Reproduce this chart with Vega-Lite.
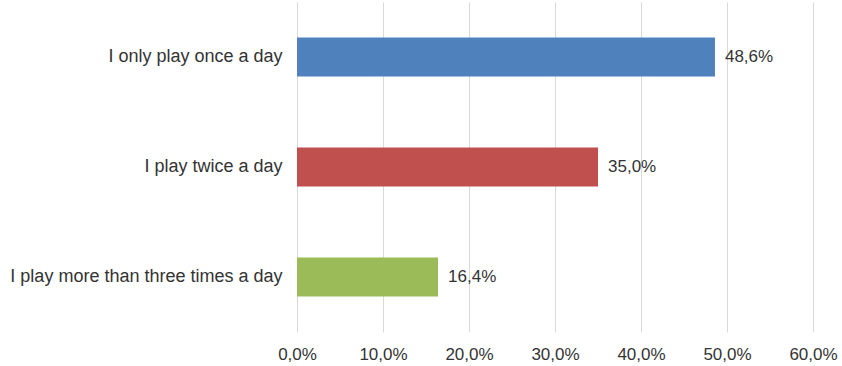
{
  "$schema": "https://vega.github.io/schema/vega-lite/v6.json",
  "width": 516,
  "height": 330,
  "autosize": {"type": "none"},
  "padding": {"left": 297, "top": 2, "right": 29, "bottom": 34},
  "background": "white",
  "config": {
    "view": {"stroke": null},
    "font": "Liberation Sans",
    "locale": {"number": {"decimal": ",", "thousands": ".", "grouping": [3], "currency": ["", " €"]}}
  },
  "data": {
    "values": [
      {"category": "I only play once a day", "value": 0.486, "color": "#4F81BD"},
      {"category": "I play twice a day", "value": 0.35, "color": "#C0504D"},
      {"category": "I play more than three times a day", "value": 0.164, "color": "#9BBB59"}
    ]
  },
  "encoding": {
    "y": {
      "field": "category",
      "type": "nominal",
      "sort": null,
      "scale": {"paddingInner": 0.645, "paddingOuter": 0.3225},
      "axis": {
        "title": null,
        "domain": false,
        "ticks": false,
        "labelPadding": 15,
        "labelFontSize": 18,
        "labelColor": "#333333",
        "labelLimit": 400
      }
    },
    "x": {
      "field": "value",
      "type": "quantitative",
      "scale": {"domain": [0, 0.6], "nice": false},
      "axis": {
        "title": null,
        "format": ".1%",
        "values": [0, 0.1, 0.2, 0.3, 0.4, 0.5, 0.6],
        "domain": false,
        "ticks": false,
        "grid": true,
        "gridColor": "#D9D9D9",
        "labelFlush": false,
        "labelPadding": 14,
        "labelFontSize": 17,
        "labelColor": "#333333"
      }
    }
  },
  "layer": [
    {
      "mark": {"type": "bar"},
      "encoding": {
        "color": {"field": "color", "type": "nominal", "scale": null}
      }
    },
    {
      "mark": {"type": "text", "align": "left", "dx": 10, "fontSize": 17, "color": "#333333"},
      "encoding": {
        "text": {"field": "value", "type": "quantitative", "format": ".1%"}
      }
    }
  ]
}
